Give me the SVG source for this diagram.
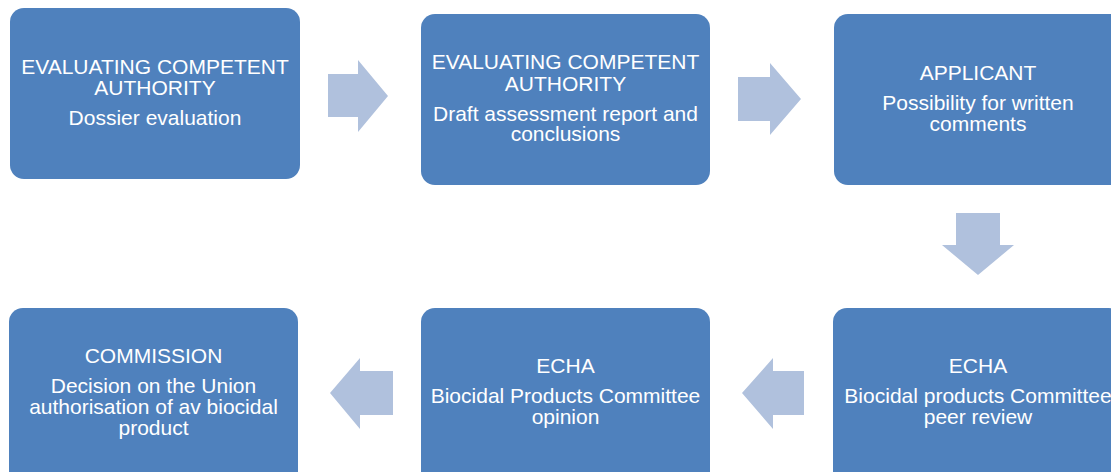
<svg xmlns="http://www.w3.org/2000/svg" width="1111" height="472" viewBox="0 0 1111 472">
<style>
.box{fill:#4F81BD;}
.arr{fill:#B0C1DD;}
text{font-family:"Liberation Sans",Arial,sans-serif;font-size:21px;fill:#FFFFFF;text-anchor:middle;}
</style>
<rect width="1111" height="472" fill="#FFFFFF"/>
<g id="connectors">
<polygon class="arr" points="328,74 358,74 358,60 388,96 358,132 358,117 328,117"/>
<polygon class="arr" points="738,77 770,77 770,63 801,99 770,135 770,121 738,121"/>
<polygon class="arr" points="956,213 1000,213 1000,245 1014,245 978,275 942,245 956,245"/>
<polygon class="arr" points="804,371 773,371 773,358 742,393 773,429 773,415 804,415"/>
<polygon class="arr" points="393,371 360,371 360,358 330,393 360,429 360,415 393,415"/>
</g>
<g id="node1">
<rect class="box" x="10" y="8" width="290" height="171" rx="14"/>
<text x="155" y="74">EVALUATING COMPETENT</text>
<text x="155" y="94.5">AUTHORITY</text>
<text x="155" y="124.5">Dossier evaluation</text>
</g>
<g id="node2">
<rect class="box" x="421" y="14" width="289" height="171" rx="14"/>
<text x="565.5" y="69.3">EVALUATING COMPETENT</text>
<text x="565.5" y="90.5">AUTHORITY</text>
<text x="565.5" y="120.5">Draft assessment report and</text>
<text x="565.5" y="141">conclusions</text>
</g>
<g id="node3">
<rect class="box" x="834" y="14" width="290" height="171" rx="14"/>
<text x="978" y="80">APPLICANT</text>
<text x="978" y="110">Possibility for written</text>
<text x="978" y="131">comments</text>
</g>
<g id="node4">
<rect class="box" x="833" y="308" width="290" height="180" rx="14"/>
<text x="978" y="373.3">ECHA</text>
<text x="978" y="403.3">Biocidal products Committee</text>
<text x="978" y="424">peer review</text>
</g>
<g id="node5">
<rect class="box" x="421" y="308" width="289" height="180" rx="14"/>
<text x="565.5" y="373.3">ECHA</text>
<text x="565.5" y="403.3">Biocidal Products Committee</text>
<text x="565.5" y="424">opinion</text>
</g>
<g id="node6">
<rect class="box" x="9" y="308" width="289" height="180" rx="14"/>
<text x="153.5" y="363">COMMISSION</text>
<text x="153.5" y="392.5">Decision on the Union</text>
<text x="153.5" y="414">authorisation of av biocidal</text>
<text x="153.5" y="435">product</text>
</g>
</svg>
